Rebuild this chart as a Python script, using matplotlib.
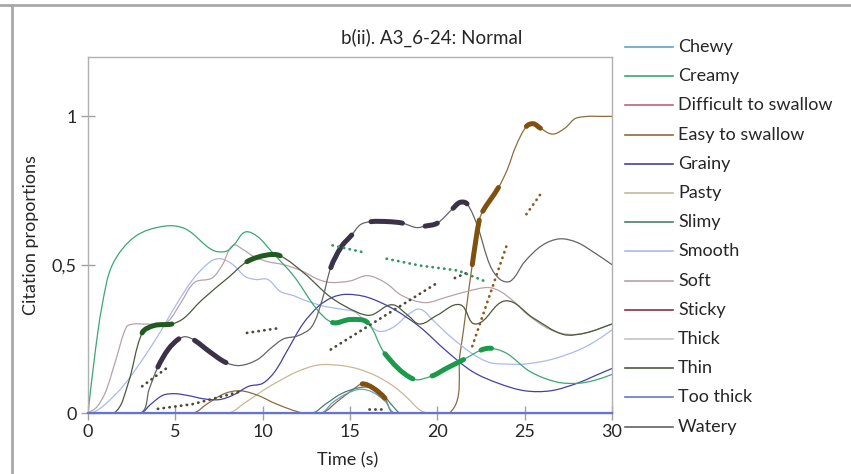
import numpy as np
import matplotlib.pyplot as plt
from matplotlib.path import Path
from matplotlib.patches import PathPatch
from matplotlib.lines import Line2D

plt.rcParams['font.family'] = ['Lato', 'DejaVu Sans']

# %% Data (time in s, citation proportion)

labels = ["Chewy", "Creamy", "Difficult to swallow", "Easy to swallow", "Grainy",
          "Pasty", "Slimy", "Smooth", "Soft", "Sticky", "Thick", "Thin",
          "Too thick", "Watery"]

chewy_t = [0, 13.3, 14.0, 14.8, 15.6, 16.3, 17.0, 17.6, 30]
chewy_y = [0, 0, 0.035, 0.065, 0.08, 0.07, 0.04, 0, 0]

creamy_t = [0, 0.4, 0.8, 1.4, 2.7, 4.4, 5.6, 7.1, 7.9, 8.4, 9.0, 9.7, 10.5, 11.8, 13.1,
            14.0, 15.0, 16.0, 17.0, 18.6, 19.7, 20.5, 21.5, 22.5, 23.1, 24.0, 25.3,
            26.8, 28.0, 29.0, 30.0]
creamy_y = [0, 0.2, 0.36, 0.5, 0.595, 0.63, 0.62, 0.55, 0.545, 0.57, 0.61, 0.595, 0.545,
            0.46, 0.35, 0.305, 0.315, 0.305, 0.2, 0.115, 0.125, 0.15, 0.18, 0.212, 0.218,
            0.2, 0.14, 0.105, 0.1, 0.11, 0.13]

difficult_t = [0, 30]
difficult_y = [0, 0]

easy_t = [0, 6.0, 6.8, 7.8, 8.7, 9.7, 10.8, 12.3, 13.4, 14.3, 15.2, 15.7, 16.3, 17.0, 17.5,
          20.7, 21.3, 22.0, 22.4, 22.6, 23.5, 24.0, 24.5, 25.1, 25.5, 25.9, 26.6, 27.3,
          28.0, 30.0]
easy_y = [0, 0, 0.03, 0.065, 0.075, 0.06, 0.03, 0, 0, 0.04, 0.08, 0.098, 0.085, 0.05, 0,
          0, 0.2, 0.5, 0.65, 0.68, 0.76, 0.82, 0.9, 0.966, 0.975, 0.96, 0.94, 0.96,
          0.995, 1.0]

grainy_t = [0, 3.0, 3.6, 4.3, 5.0, 5.8, 6.6, 7.5, 8.3, 9.2, 10.0, 10.7, 11.5, 12.3, 13.2,
            14.0, 14.8, 16.0, 17.5, 19.0, 20.5, 22.0, 23.5, 25.0, 26.5, 28.0, 29.0, 30.0]
grainy_y = [0, 0, 0.03, 0.06, 0.065, 0.058, 0.048, 0.045, 0.06, 0.09, 0.1, 0.14, 0.22, 0.3,
            0.36, 0.39, 0.4, 0.39, 0.35, 0.29, 0.21, 0.14, 0.1, 0.075, 0.075, 0.1, 0.125,
            0.15]

pasty_t = [0, 8.0, 9.0, 10.0, 11.0, 12.0, 13.2, 14.5, 15.5, 16.5, 17.5, 18.3, 19.0, 19.5, 30]
pasty_y = [0, 0, 0.035, 0.075, 0.11, 0.14, 0.162, 0.16, 0.148, 0.125, 0.09, 0.05, 0.01, 0, 0]

slimy_t = [0, 12.8, 13.6, 14.5, 15.5, 16.2, 16.9, 17.5, 17.9, 30]
slimy_y = [0, 0, 0.03, 0.065, 0.085, 0.085, 0.06, 0.02, 0, 0]

smooth_t = [0, 0.4, 1.0, 2.0, 3.0, 4.0, 5.0, 6.0, 7.0, 7.6, 8.3, 9.0, 9.6, 10.3, 11.0, 11.8,
            12.4, 13.5, 14.5, 15.3, 16.0, 16.7, 17.5, 18.3, 19.0, 19.8, 20.7, 22.0, 23.0,
            24.0, 25.0, 26.5, 28.0, 29.0, 30.0]
smooth_y = [0, 0.005, 0.03, 0.09, 0.17, 0.26, 0.36, 0.45, 0.51, 0.52, 0.5, 0.46, 0.45, 0.45,
            0.41, 0.395, 0.38, 0.36, 0.35, 0.34, 0.3, 0.275, 0.29, 0.33, 0.35, 0.31, 0.26,
            0.2, 0.17, 0.165, 0.165, 0.18, 0.21, 0.24, 0.28]

soft_t = [0, 0.5, 1.0, 1.6, 2.2, 2.6, 3.1, 4.0, 4.6, 5.3, 6.1, 7.1, 7.7, 8.3, 8.9, 9.5,
          10.3, 11.2, 12.2, 13.2, 13.9, 15.0, 16.0, 17.0, 18.0, 19.3, 20.5, 21.7, 22.9,
          23.6, 24.4, 25.2, 26.5, 27.5, 28.5, 30.0]
soft_y = [0, 0.02, 0.07, 0.18, 0.29, 0.3, 0.3, 0.3, 0.31, 0.37, 0.44, 0.455, 0.5, 0.565,
          0.55, 0.527, 0.51, 0.5, 0.48, 0.45, 0.44, 0.445, 0.463, 0.44, 0.395, 0.372, 0.39,
          0.41, 0.423, 0.41, 0.375, 0.33, 0.28, 0.265, 0.27, 0.3]

sticky_t = [0, 30]
sticky_y = [0, 0]

thick_t = [0, 30]
thick_y = [0, 0]

thin_t = [0, 1.5, 2.3, 3.1, 3.8, 4.8, 5.5, 6.5, 8.1, 9.1, 10.2, 11.0, 12.4, 13.9, 15.4,
          16.2, 17.4, 18.3, 19.0, 20.0, 21.3, 22.2, 23.9, 25.5, 27.2, 28.5, 30.0]
thin_y = [0, 0, 0.1, 0.27, 0.295, 0.3, 0.32, 0.38, 0.46, 0.51, 0.532, 0.53, 0.47, 0.39,
          0.34, 0.33, 0.365, 0.33, 0.3, 0.33, 0.365, 0.3, 0.378, 0.32, 0.265, 0.27, 0.3]

toothick_t = [0, 30]
toothick_y = [0, 0]

watery_t = [0, 3.0, 3.5, 4.0, 4.6, 5.2, 5.6, 6.1, 7.0, 7.9, 8.7, 9.7, 10.5, 11.2, 12.0,
            12.8, 13.4, 13.9, 14.5, 15.1, 15.6, 16.2, 17.2, 18.0, 18.8, 19.3, 20.0, 20.9,
            21.3, 21.7, 22.3, 23.0, 23.6, 24.2, 25.0, 26.0, 27.0, 28.0, 29.0, 30.0]
watery_y = [0, 0, 0.08, 0.155, 0.215, 0.25, 0.257, 0.245, 0.205, 0.17, 0.16, 0.18, 0.22,
            0.25, 0.26, 0.29, 0.38, 0.49, 0.56, 0.6, 0.635, 0.645, 0.645, 0.64, 0.625, 0.63,
            0.64, 0.69, 0.71, 0.705, 0.63, 0.5, 0.45, 0.445, 0.51, 0.565, 0.587, 0.575,
            0.54, 0.5]

# significant stretches (drawn bold)
creamy_sig = [(14.0, 16.0), (17.0, 18.6), (19.7, 21.5), (22.5, 23.1)]
easy_sig = [(15.7, 17.0), (22.0, 22.4), (22.6, 23.5), (25.1, 25.9)]
thin_sig = [(3.1, 4.8), (9.1, 11.0)]
watery_sig = [(4.0, 5.2), (6.1, 7.9), (13.9, 15.1), (16.2, 18.0), (19.3, 20.0), (20.9, 21.7)]

# dotted segments
dots_dark = [([3.1, 4.7], [0.09, 0.16]),
             ([4.0, 6.0, 8.7], [0.014, 0.03, 0.072]),
             ([9.1, 10.8], [0.27, 0.285]),
             ([13.9, 19.9], [0.214, 0.435]),
             ([21.0, 21.8], [0.455, 0.475]),
             ([16.1, 16.9], [0.014, 0.014])]
dots_green = [([14.0, 15.9], [0.565, 0.54]),
              ([17.1, 19.0, 20.2, 21.2, 22.9], [0.52, 0.497, 0.488, 0.48, 0.44])]
dots_brown = [([22.0, 24.0], [0.225, 0.57]),
              ([25.1, 25.9], [0.67, 0.737])]

colors = ["#62a3c3", "#3aa870", "#c4607c", "#8e6b3c", "#4242a2", "#cdb597", "#4e7d6e",
          "#a9b9f0", "#b9a1a8", "#8a3040", "#c4c4c4", "#4a5a3a", "#6474d4", "#646464"]

series = [(chewy_t, chewy_y), (creamy_t, creamy_y), (difficult_t, difficult_y),
          (easy_t, easy_y), (grainy_t, grainy_y), (pasty_t, pasty_y), (slimy_t, slimy_y),
          (smooth_t, smooth_y), (soft_t, soft_y), (sticky_t, sticky_y), (thick_t, thick_y),
          (thin_t, thin_y), (toothick_t, toothick_y), (watery_t, watery_y)]

# %% Smoothed line helper (Excel-like smoothing)
SX, SY = 17.4, 296.0


def smooth_path(t, y, t0=None, t1=None):
    p = np.column_stack([np.asarray(t, float) * SX, np.asarray(y, float) * SY])
    n = len(p)
    tang = np.zeros_like(p)
    for i in range(n):
        d = p[min(i + 1, n - 1)] - p[max(i - 1, 0)]
        tang[i] = d / (np.hypot(*d) + 1e-9)
    i0 = 0 if t0 is None else int(np.argmin(np.abs(np.asarray(t) - t0)))
    i1 = n - 1 if t1 is None else int(np.argmin(np.abs(np.asarray(t) - t1)))
    verts = [p[i0]]
    codes = [Path.MOVETO]
    for i in range(i0, i1):
        L = np.hypot(*(p[i + 1] - p[i]))
        verts += [p[i] + tang[i] * L / 3, p[i + 1] - tang[i + 1] * L / 3, p[i + 1]]
        codes += [Path.CURVE4] * 3
    verts = np.array(verts) / [SX, SY]
    return Path(verts, codes)


# %% Plot
fig = plt.figure(figsize=(8.51, 4.74), dpi=100)
ax = fig.add_axes([88 / 851, 1 - 413 / 474, 524 / 851, 356 / 474])
ax.set_xlim(0, 30)
ax.set_ylim(0, 1.2)

draw_order = [5, 3, 6, 0, 7, 8, 4, 1, 11, 13, 2, 9, 10, 12]
for k in draw_order:
    t, y = series[k]
    ax.add_patch(PathPatch(smooth_path(t, y), fill=False, ec=colors[k], lw=0.9,
                           capstyle='round', joinstyle='round'))

for (t, y), sig, c in [((creamy_t, creamy_y), creamy_sig, "#1a9a4a"),
                       ((easy_t, easy_y), easy_sig, "#80500f"),
                       ((thin_t, thin_y), thin_sig, "#1f5a1f"),
                       ((watery_t, watery_y), watery_sig, "#3c3248")]:
    for a, b in sig:
        ax.add_patch(PathPatch(smooth_path(t, y, a, b), fill=False, ec=c, lw=3.6,
                               capstyle='round', joinstyle='round'))

for group, c in [(dots_dark, "#4b4a38"), (dots_green, "#2e9a5c"), (dots_brown, "#8a5c1c")]:
    for t, y in group:
        ax.plot(t, y, color=c, lw=2.0, ls=(0, (0.1, 2.0)), dash_capstyle='round')

# too thick sits on the baseline on top of everything
ax.plot(toothick_t, toothick_y, color=colors[12], lw=1.6, clip_on=False, zorder=5)

for s in ax.spines.values():
    s.set_color("#b0b0b0")
    s.set_linewidth(1.0)
ax.set_xticks([0, 5, 10, 15, 20, 25, 30])
ax.set_yticks([0, 0.5, 1])
ax.set_yticklabels(["0", "0,5", "1"])
ax.tick_params(axis='both', direction='inout', length=10, width=1.0, color="#a0a0a0",
               labelsize=13, labelcolor="#262626", pad=3)

fig.text(432 / 851, 1 - 38 / 474, "b(ii). A3_6-24: Normal", ha='center', va='center',
         fontsize=13.5, color="#262626")
fig.text(31 / 851, 1 - 235 / 474, "Citation proportions", rotation=90, ha='center',
         va='center', fontsize=13, color="#262626")
fig.text(348 / 851, 1 - 460 / 474, "Time (s)", ha='center', va='center', fontsize=13,
         color="#262626")

# legend
for i, (lab, c) in enumerate(zip(labels, colors)):
    yp = 1 - (47 + i * 29.2) / 474
    fig.add_artist(Line2D([625 / 851, 673 / 851], [yp, yp], color=c, lw=1.2))
    fig.text(678 / 851, yp, lab, ha='left', va='center', fontsize=13, color="#262626")

# screenshot frame
fig.add_artist(Line2D([0, 1], [1 - 5 / 474, 1 - 5 / 474], color="#a8a8a8", lw=2))
fig.add_artist(Line2D([12 / 851, 12 / 851], [0, 1 - 5 / 474], color="#a8a8a8", lw=2))

fig.savefig("out.png", dpi=100)
